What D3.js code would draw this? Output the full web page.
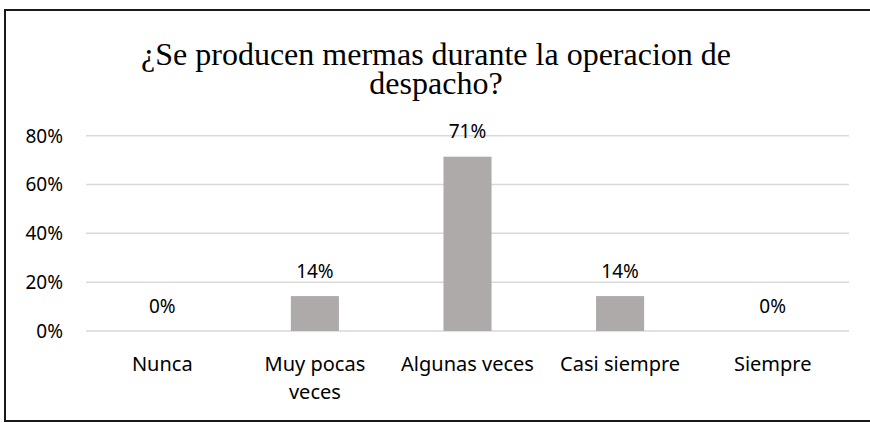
<!DOCTYPE html>
<html>
<head>
<meta charset="utf-8">
<script src="https://cdn.jsdelivr.net/npm/d3@7"></script>
<style>
  body { margin: 0; background: #fff; }
  svg { display: block; }
  .tick-label, .val-label, .cat-label { font-family: "Noto Sans", sans-serif; fill: #000; }
  .title { font-family: "Liberation Serif", "Times New Roman", serif; fill: #000; }
</style>
</head>
<body>
<div id="chart"></div>
<script>
// chart data
var titleLines = ["¿Se producen mermas durante la operacion de", "despacho?"];
var categories = ["Nunca", "Muy pocas veces", "Algunas veces", "Casi siempre", "Siempre"];
var values = [0, 0.143, 0.714, 0.143, 0];
var yTicks = [0, 0.2, 0.4, 0.6, 0.8];

var width = 870, height = 423;
var margin = {top: 135.7, right: 21, bottom: 92, left: 86};

var svg = d3.select("#chart")
  .append("svg")
    .attr("width", width)
    .attr("height", height);

// outer frame
svg.append("rect")
    .attr("x", 5)
    .attr("y", 10)
    .attr("width", width)
    .attr("height", 411)
    .attr("fill", "#fff")
    .attr("stroke", "#1a1a1a")
    .attr("stroke-width", 2);

// title (two lines, tight spacing like the original)
svg.append("text")
    .attr("class", "title")
    .attr("text-anchor", "middle")
    .style("font-size", "32px")
  .selectAll("tspan")
  .data(titleLines)
  .enter().append("tspan")
    .attr("x", 436)
    .attr("y", function(d, i) { return 65 + i * 29; })
    .text(function(d) { return d; });

var x = d3.scaleBand()
    .domain(categories)
    .range([margin.left, width - margin.right]);

var y = d3.scaleLinear()
    .domain([0, 0.8])
    .range([height - margin.bottom, margin.top]);

var fmt = d3.format(".0%");

// gridlines
svg.append("g")
    .attr("class", "grid")
  .selectAll("line")
  .data(yTicks)
  .enter().append("line")
    .attr("x1", margin.left)
    .attr("x2", width - margin.right)
    .attr("y1", function(d) { return y(d); })
    .attr("y2", function(d) { return y(d); })
    .attr("stroke", "#d9d9d9")
    .attr("stroke-width", 1.5);

// y tick labels
svg.append("g")
  .selectAll("text")
  .data(yTicks)
  .enter().append("text")
    .attr("class", "tick-label")
    .attr("x", 63)
    .attr("y", function(d) { return y(d) + 6.8; })
    .attr("text-anchor", "end")
    .style("font-size", "19px")
    .text(fmt);

// bars
var barW = x.bandwidth() * 0.315;
svg.append("g")
  .selectAll("rect")
  .data(values)
  .enter().append("rect")
    .attr("x", function(d, i) { return x(categories[i]) + x.bandwidth() / 2 - barW / 2; })
    .attr("y", function(d) { return y(d); })
    .attr("width", barW)
    .attr("height", function(d) { return y(0) - y(d); })
    .attr("fill", "#aeaaaa");

// value labels
svg.append("g")
  .selectAll("text")
  .data(values)
  .enter().append("text")
    .attr("class", "val-label")
    .attr("x", function(d, i) { return x(categories[i]) + x.bandwidth() / 2; })
    .attr("y", function(d) { return y(d) - 18.5; })
    .attr("text-anchor", "middle")
    .style("font-size", "19px")
    .text(fmt);

// category labels, wrapped to the band width
var cat = svg.append("g")
  .selectAll("text")
  .data(categories)
  .enter().append("text")
    .attr("class", "cat-label")
    .attr("text-anchor", "middle")
    .style("font-size", "20px")
    .attr("y", 370.5);

cat.each(function(d) {
  var el = d3.select(this);
  var cx = x(d) + x.bandwidth() / 2;
  var words = d.split(" ");
  var line = [];
  var lineNo = 0;
  var tspan = el.append("tspan").attr("x", cx).attr("y", 370.5);
  words.forEach(function(w) {
    line.push(w);
    tspan.text(line.join(" "));
    if (tspan.node().getComputedTextLength() > x.bandwidth() * 0.95 && line.length > 1) {
      line.pop();
      tspan.text(line.join(" "));
      line = [w];
      lineNo++;
      tspan = el.append("tspan").attr("x", cx).attr("y", 370.5 + lineNo * 28.5).text(w);
    }
  });
});
</script>
</body>
</html>
